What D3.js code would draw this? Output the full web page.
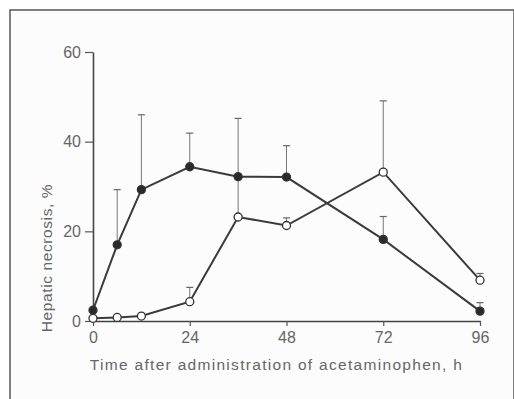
<!DOCTYPE html>
<html>
<head>
<meta charset="utf-8">
<script src="https://cdn.jsdelivr.net/npm/d3@7"></script>
<style>
  body { margin: 0; background: #fff; }
  text { font-family: "Liberation Sans", Arial, sans-serif; fill: #666; }
</style>
</head>
<body>
<svg width="514" height="399"></svg>
<script>
var hours = [0, 6, 12, 24, 36, 48, 72, 96];
var filledValues = [2.4, 17, 29.3, 34.4, 32.2, 32.1, 18.2, 2.2];
var filledUpper = [null, 29.3, 46, 41.9, 45.2, 39.1, 23.3, 4.1];
var openValues = [0.6, 0.8, 1.1, 4.3, 23.2, 21.3, 33.2, 9.1];
var openUpper = [null, null, null, 7.5, 32.2, 23, 49.1, 10.6];
var xTicks = [0, 24, 48, 72, 96];
var yTicks = [0, 20, 40, 60];

var svg = d3.select("svg"),
    width = +svg.attr("width"),
    height = +svg.attr("height");

// scanned page frame
svg.append("rect")
    .attr("x", 10).attr("y", 10)
    .attr("width", width - 10).attr("height", height)
    .attr("fill", "#fcfcfc")
    .attr("stroke", "#555")
    .attr("stroke-width", 1.5);

var x = d3.scaleLinear().domain([0, 96]).range([93, 480]);
var y = d3.scaleLinear().domain([0, 60]).range([321, 52]);

var g = svg.append("g");

// axes
var xAxis = g.append("g")
    .attr("transform", "translate(0," + y(0) + ")")
    .call(d3.axisBottom(x).tickValues(xTicks).tickSize(5).tickPadding(5).tickSizeOuter(0));
var yAxis = g.append("g")
    .attr("transform", "translate(" + x(0) + ",0)")
    .call(d3.axisLeft(y).tickValues(yTicks).tickSize(8).tickPadding(4).tickSizeOuter(0));

[xAxis, yAxis].forEach(function(a) {
  a.select(".domain").attr("stroke", "#444").attr("stroke-width", 1.6);
  a.selectAll(".tick line").attr("stroke", "#555").attr("stroke-width", 1.2);
  a.selectAll(".tick text").style("font-size", "16px").attr("fill", "#666");
});
xAxis.selectAll(".tick text").attr("dy", "0.75em");

g.append("text")
    .attr("x", (x(0) + x(96)) / 2 - 10)
    .attr("y", 370)
    .attr("text-anchor", "middle")
    .style("font-size", "15.5px")
    .style("letter-spacing", "1.3px")
    .text("Time after administration of acetaminophen, h");

g.append("text")
    .attr("transform", "translate(52," + 258 + ") rotate(-90)")
    .attr("text-anchor", "middle")
    .style("font-size", "15.5px")
    .style("letter-spacing", "0.6px")
    .text("Hepatic necrosis, %");

function errorBars(values, upper) {
  var bars = g.append("g");
  hours.forEach(function(h, i) {
    if (upper[i] == null) return;
    bars.append("line")
        .attr("x1", x(h)).attr("x2", x(h))
        .attr("y1", y(values[i])).attr("y2", y(upper[i]))
        .attr("stroke", "#777").attr("stroke-width", 1);
    bars.append("line")
        .attr("x1", x(h) - 3.5).attr("x2", x(h) + 3.5)
        .attr("y1", y(upper[i])).attr("y2", y(upper[i]))
        .attr("stroke", "#666").attr("stroke-width", 1.2);
  });
}
errorBars(filledValues, filledUpper);
errorBars(openValues, openUpper);

var line = d3.line()
    .x(function(d, i) { return x(hours[i]); })
    .y(function(d) { return y(d); });

function series(values, fill) {
  g.append("path")
      .datum(values)
      .attr("d", line)
      .attr("fill", "none")
      .attr("stroke", "#3a3a3a")
      .attr("stroke-width", 2);
  g.selectAll(null)
      .data(values)
      .enter()
      .append("circle")
      .attr("cx", function(d, i) { return x(hours[i]); })
      .attr("cy", function(d) { return y(d); })
      .attr("r", 4)
      .attr("fill", fill)
      .attr("stroke", "#333")
      .attr("stroke-width", 1.3);
}
series(openValues, "#fff");
series(filledValues, "#2a2a2a");
</script>
</body>
</html>
